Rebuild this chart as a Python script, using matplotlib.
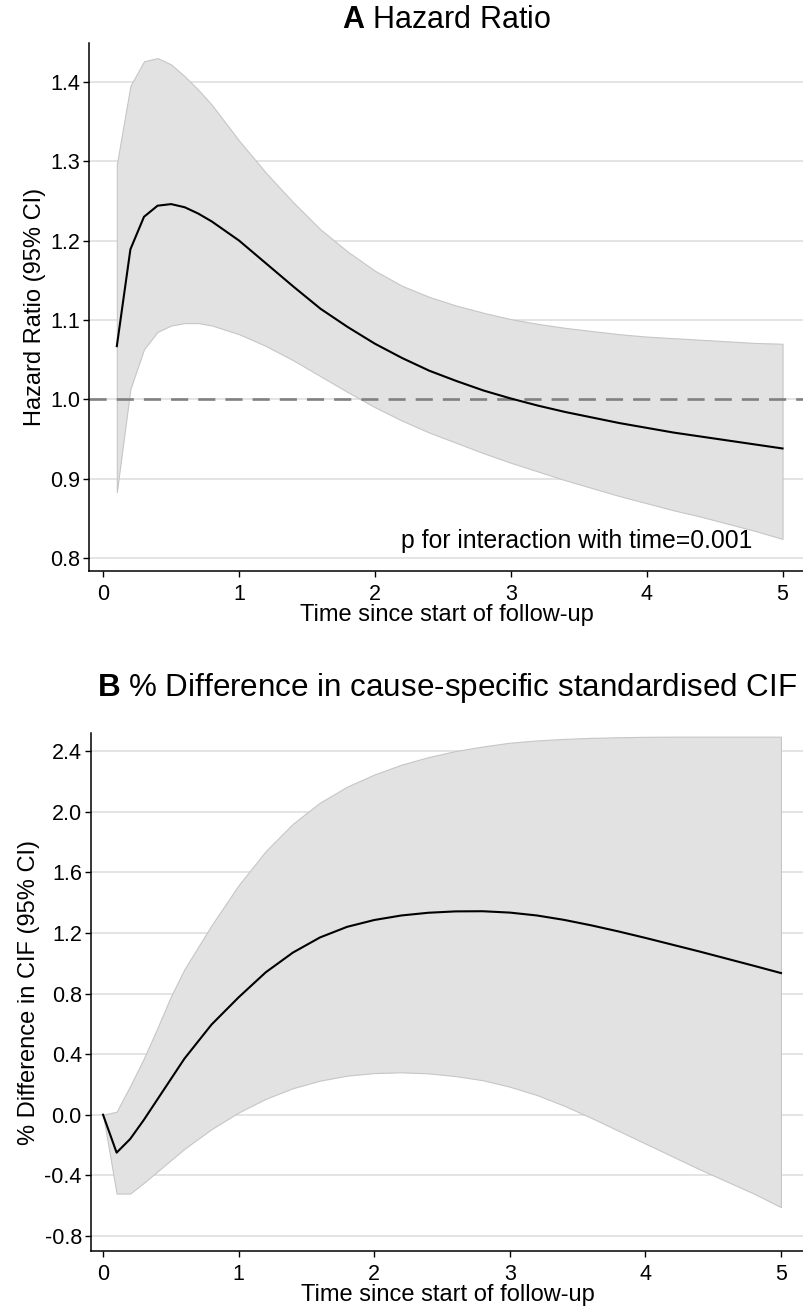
import matplotlib
matplotlib.use('Agg')
import matplotlib.pyplot as plt

plt.rcParams['font.family'] = ['Liberation Sans', 'DejaVu Sans']
plt.rcParams['mathtext.fontset'] = 'custom'
plt.rcParams['mathtext.rm'] = 'Liberation Sans'
plt.rcParams['mathtext.bf'] = 'Liberation Sans:bold'

# Panel A: hazard ratio over time with 95% CI
tiempo_hr = [0.1, 0.2, 0.3, 0.4, 0.5, 0.6, 0.7, 0.8, 1.0, 1.2, 1.4, 1.6, 1.8, 2.0, 2.2, 2.4,
             2.6, 2.8, 3.0, 3.2, 3.4, 3.6, 3.8, 4.0, 4.2, 4.4, 4.6, 4.8, 5.0]
hr = [1.067, 1.189, 1.230, 1.244, 1.246, 1.242, 1.234, 1.224, 1.200, 1.171, 1.142, 1.114, 1.091,
      1.070, 1.052, 1.036, 1.023, 1.011, 1.001, 0.992, 0.984, 0.977, 0.970, 0.964, 0.958, 0.953,
      0.948, 0.943, 0.938]
hr_sup = [1.296, 1.395, 1.426, 1.430, 1.422, 1.407, 1.390, 1.371, 1.326, 1.285, 1.248, 1.214, 1.186,
          1.162, 1.143, 1.129, 1.118, 1.109, 1.101, 1.095, 1.090, 1.086, 1.082, 1.079, 1.077, 1.075,
          1.073, 1.071, 1.070]
hr_inf = [0.883, 1.013, 1.063, 1.085, 1.093, 1.096, 1.096, 1.093, 1.082, 1.067, 1.049, 1.029, 1.009,
          0.990, 0.973, 0.958, 0.945, 0.932, 0.920, 0.909, 0.898, 0.888, 0.878, 0.869, 0.860, 0.852,
          0.843, 0.834, 0.824]

# Panel B: % difference in standardised CIF with 95% CI
tiempo_cif = [0.0, 0.1, 0.2, 0.3, 0.4, 0.5, 0.6, 0.8, 1.0, 1.2, 1.4, 1.6, 1.8, 2.0, 2.2, 2.4,
              2.6, 2.8, 3.0, 3.2, 3.4, 3.6, 3.8, 4.0, 4.2, 4.4, 4.6, 4.8, 5.0]
dif = [0.0, -0.25, -0.16, -0.035, 0.10, 0.235, 0.37, 0.595, 0.775, 0.94, 1.07, 1.17, 1.24,
       1.285, 1.315, 1.333, 1.342, 1.343, 1.334, 1.315, 1.286, 1.25, 1.21, 1.167, 1.122, 1.077,
       1.03, 0.983, 0.935]
dif_sup = [0.0, 0.02, 0.19, 0.37, 0.57, 0.78, 0.96, 1.25, 1.515, 1.74, 1.92, 2.06, 2.165,
           2.245, 2.31, 2.36, 2.40, 2.43, 2.455, 2.47, 2.48, 2.487, 2.491, 2.494, 2.495, 2.495,
           2.495, 2.495, 2.495]
dif_inf = [0.0, -0.52, -0.52, -0.45, -0.375, -0.30, -0.225, -0.095, 0.015, 0.105, 0.175, 0.225, 0.258,
           0.275, 0.28, 0.273, 0.255, 0.228, 0.185, 0.13, 0.06, -0.02, -0.105, -0.19, -0.275, -0.36,
           -0.44, -0.52, -0.61]

ticks_x = [0, 1, 2, 3, 4, 5]
ticks_hr = [0.8, 0.9, 1.0, 1.1, 1.2, 1.3, 1.4]
ticks_cif = [-0.8, -0.4, 0.0, 0.4, 0.8, 1.2, 1.6, 2.0, 2.4]

RELLENO = '#e2e2e2'
BORDE = '#c6c6c6'
REJILLA = '#dcdcdc'

fig = plt.figure(figsize=(8.04, 13.12), dpi=100)
ax1 = fig.add_axes([0.111, 0.5648, 0.889, 0.4024])
ax2 = fig.add_axes([0.113, 0.0465, 0.887, 0.3948])


def estilo(ax, yticks, etiquetas_y):
    ax.set_xticks(ticks_x)
    ax.set_yticks(yticks)
    ax.set_yticklabels(etiquetas_y)
    for y in yticks:
        ax.axhline(y, color=REJILLA, lw=1.1, zorder=0)
    for lado in ['top', 'right']:
        ax.spines[lado].set_visible(False)
    for lado in ['left', 'bottom']:
        ax.spines[lado].set_linewidth(1.1)
    ax.tick_params(direction='out', length=4.5, width=1.0, labelsize=15.5, pad=2)
    ax.tick_params(axis='x', pad=5)
    ax.set_xlabel('Time since start of follow-up', fontsize=17, labelpad=-1)


# Panel A
ax1.fill_between(tiempo_hr, hr_inf, hr_sup, facecolor=RELLENO, edgecolor=BORDE, lw=0.8, zorder=1)
ax1.axhline(1.0, color='#808080', lw=1.9, dashes=(6.5, 3.8), zorder=2)
ax1.plot(tiempo_hr, hr, color='black', lw=1.5, zorder=3)
ax1.set_xlim(-0.103, 5.158)
ax1.set_ylim(0.7836, 1.449)
estilo(ax1, ticks_hr, [f'{v:.1f}' for v in ticks_hr])
ax1.set_ylabel('Hazard Ratio (95% CI)', fontsize=17, labelpad=3)
ax1.text(4.78, 0.821, 'p for interaction with time=0.001', fontsize=17.8, ha='right', va='center')
ax1.set_title(r'$\mathbf{A}$ Hazard Ratio', fontsize=22, pad=11)

# Panel B
ax2.fill_between(tiempo_cif, dif_inf, dif_sup, facecolor=RELLENO, edgecolor=BORDE, lw=0.8, zorder=1)
ax2.plot(tiempo_cif, dif, color='black', lw=1.5, zorder=3)
ax2.set_xlim(-0.09, 5.17)
ax2.set_ylim(-0.899, 2.519)
estilo(ax2, ticks_cif, [f'{v:.1f}' for v in ticks_cif])
ax2.set_ylabel('% Difference in CIF (95% CI)', fontsize=17, labelpad=3)
ax2.set_title(r'$\mathbf{B}$ % Difference in cause-specific standardised CIF', fontsize=22.6, pad=27)

fig.savefig('out.png', dpi=100)
